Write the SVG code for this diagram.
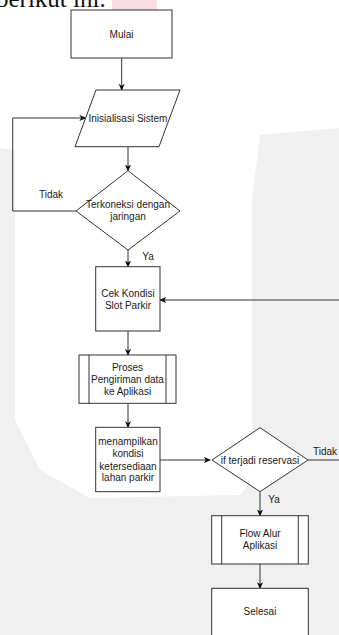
<svg xmlns="http://www.w3.org/2000/svg" width="339" height="635" viewBox="0 0 339 635">
<style>
.n{fill:#fff;stroke:#333;stroke-width:1}
.t{font-family:"Liberation Sans",Arial,sans-serif;font-size:10px;fill:#1a1a1a;text-anchor:middle;dominant-baseline:central}
.c{fill:none;stroke:#333;stroke-width:1}
</style>
<defs>
<marker id="ah" viewBox="0 0 8 8" refX="7" refY="4" markerWidth="7" markerHeight="7" markerUnits="userSpaceOnUse" orient="auto">
<path d="M0,0.5 L8,4 L0,7.5 L2,4 Z" fill="#111"/>
</marker>
</defs>
<rect width="339" height="635" fill="#fff"/>
<path d="M0,0 H339 V635 H0 Z M0,0 V148 L15,150 V420 L40,470 L90,498 L240,495 L252,480 V200 L260,135 L339,128 V0 Z" fill="#f0f0f0" fill-rule="evenodd"/>
<rect x="112" y="0" width="45" height="10" fill="#fbdde3"/>
<text x="-4" y="7" font-family="Liberation Serif,Times New Roman,serif" font-size="25" fill="#111">berikut ini.</text>
<g id="connectors">
<path class="c" d="M121.7,58 L121.7,90" marker-end="url(#ah)"/>
<path class="c" d="M128,146.7 L128,170.7" marker-end="url(#ah)"/>
<path class="c" d="M76,211 L12.7,211 L12.7,118 L85.5,118" marker-end="url(#ah)"/>
<path class="c" d="M128,250 L128,266.7" marker-end="url(#ah)"/>
<path class="c" d="M339,300 L160,300" marker-end="url(#ah)"/>
<path class="c" d="M128,331 L128,355" marker-end="url(#ah)"/>
<path class="c" d="M128,403.3 L128,427.3" marker-end="url(#ah)"/>
<path class="c" d="M160,460 L210,460" marker-end="url(#ah)"/>
<path class="c" d="M308,460 L339,460"/>
<path class="c" d="M260,491.7 L260,515.7" marker-end="url(#ah)"/>
<path class="c" d="M260,564 L260,588.3" marker-end="url(#ah)"/>
<text class="t" x="51" y="194">Tidak</text>
<text class="t" x="148" y="256">Ya</text>
<text class="t" x="325" y="451">Tidak</text>
<text class="t" x="274" y="499">Ya</text>
</g>
<g id="mulai">
<rect class="n" x="71" y="10" width="101" height="48"/>
<text class="t" x="121.5" y="34">Mulai</text>
</g>
<g id="inisialisasi">
<polygon class="n" points="96,90 180,90 159,146.7 75,146.7"/>
<text class="t" x="128" y="118">Inisialisasi Sistem</text>
</g>
<g id="terkoneksi">
<polygon class="n" points="128,170.7 180,211 128,250 76,211"/>
<text class="t" x="128" y="204">Terkoneksi dengan</text>
<text class="t" x="128" y="216.5">jaringan</text>
</g>
<g id="cek">
<rect class="n" x="95.7" y="266.7" width="64.3" height="64.3"/>
<text class="t" x="128" y="293">Cek Kondisi</text>
<text class="t" x="128" y="305.5">Slot Parkir</text>
</g>
<g id="proses">
<rect class="n" x="79" y="355" width="97" height="48.3"/>
<path class="c" d="M89,355 V403.3 M166,355 V403.3"/>
<text class="t" x="127.5" y="367">Proses</text>
<text class="t" x="127.5" y="379.5">Pengiriman data</text>
<text class="t" x="127.5" y="391">ke Aplikasi</text>
</g>
<g id="menampilkan">
<rect class="n" x="95.7" y="427.3" width="64.3" height="64.4"/>
<text class="t" x="128" y="441">menampilkan</text>
<text class="t" x="128" y="453.5">kondisi</text>
<text class="t" x="128" y="466">ketersediaan</text>
<text class="t" x="128" y="477.5">lahan parkir</text>
</g>
<g id="reservasi">
<polygon class="n" points="260,427.7 308,460 260,491.7 212,460"/>
<text class="t" x="260" y="460">if terjadi reservasi</text>
</g>
<g id="flow">
<rect class="n" x="211.7" y="515.7" width="96.6" height="48.3"/>
<path class="c" d="M221.7,515.7 V564 M298.3,515.7 V564"/>
<text class="t" x="260" y="533">Flow Alur</text>
<text class="t" x="260" y="545.5">Aplikasi</text>
</g>
<g id="selesai">
<rect class="n" x="211.7" y="588.3" width="96.6" height="60"/>
<text class="t" x="260" y="611.5">Selesai</text>
</g>
</svg>
